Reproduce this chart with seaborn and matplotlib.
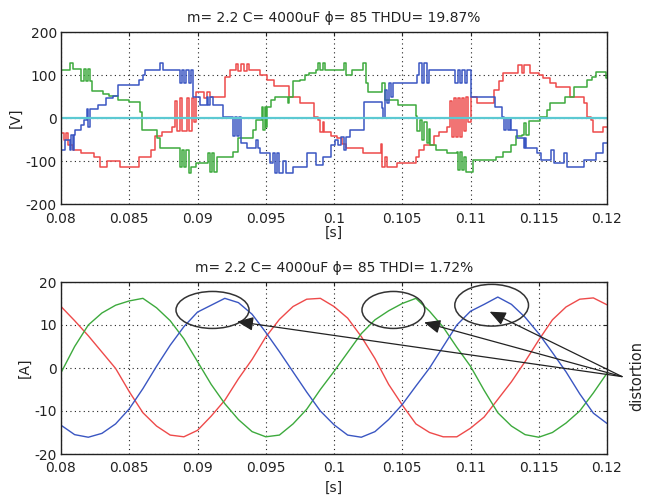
import numpy as np
import matplotlib
matplotlib.use("Agg")
import matplotlib.pyplot as plt
import seaborn as sns
from matplotlib.patches import Ellipse

T0 = 0.08  # start of the window [s]

# ---------------- phase voltages (staircase), time offsets in ms, levels in V
green_v_t = [0.0, 0.66, 0.85, 1.5, 1.65, 1.8, 1.95, 2.1, 2.25, 3.1,
             3.5, 4.2, 5.0, 5.8, 5.9, 7.0, 7.25, 8.7, 8.85, 9.0,
             9.15, 9.35, 9.55, 9.9, 10.75, 10.9, 11.05, 11.2, 11.4, 12.6,
             13.0, 14.1, 14.3, 14.7, 14.8, 14.95, 15.05, 15.1, 15.4, 15.7,
             16.6, 16.7, 17.0, 17.5, 17.9, 18.2, 18.7, 18.85, 19.0, 19.2,
             19.35, 20.7, 20.9, 21.3, 22.15, 22.35, 22.5, 23.55, 23.7, 24.7,
             26.0, 26.1, 26.3, 26.45, 26.6, 26.8, 26.95, 27.0, 27.5, 28.25,
             29.0, 29.1, 29.25, 29.4, 29.55, 29.7, 30.2, 31.9, 32.4, 33.0,
             33.3, 33.8, 33.9, 34.1, 34.25, 35.1, 35.6, 35.8, 36.9, 37.6,
             38.5, 38.9, 39.2, 39.9, 40.0]
green_v = [112, 128, 113, 85, 113, 85, 113, 85, 63, 55,
           51, 42, 38, 15, -28, -47, -70, -113, -74, -113,
           -74, -128, -113, -105, -82, -125, -82, -125, -90, -78,
           -47, -28, -5, 26, -28, 26, -20, 26, 42, 50,
           35, 50, 85, 88, 100, 104, 112, 128, 112, 128,
           112, 128, 100, 112, 128, 81, 61, 81, 42, 30,
           5, -30, -5, -50, -10, -59, -25, -63, -75, -82,
           -78, -121, -78, -121, -90, -125, -98, -90, -78, -63,
           -43, -39, -12, -40, -8, 3, 19, 34, 50, 73,
           88, 96, 108, 92, 92]

red_v_t = [0.0, 0.2, 0.35, 0.5, 0.9, 1.5, 2.4, 2.85, 3.35, 4.3,
           5.7, 6.6, 6.9, 7.4, 8.1, 8.35, 8.5, 8.7, 8.85, 9.2,
           9.35, 9.6, 9.75, 9.9, 10.5, 10.7, 10.9, 12.0, 12.4, 12.8,
           13.0, 13.2, 13.4, 13.6, 13.8, 14.6, 15.1, 15.6, 16.7, 17.5,
           18.5, 18.8, 19.0, 19.2, 19.3, 19.8, 20.2, 20.6, 20.9, 22.1,
           23.45, 23.55, 23.7, 23.85, 24.6, 26.0, 26.2, 26.6, 27.3, 27.7,
           28.3, 28.5, 28.65, 28.8, 28.95, 29.1, 29.25, 29.4, 29.55, 29.7,
           29.85, 30.0, 30.5, 31.7, 32.1, 32.4, 33.5, 33.8, 33.95, 34.35,
           35.0, 35.3, 35.8, 36.3, 37.3, 38.3, 38.5, 38.8, 39.0, 39.7,
           40.0]
red_v = [-36, -50, -36, -63, -75, -82, -90, -113, -100, -113,
         -90, -75, -43, -32, -20, 40, -30, 46, -30, 46,
         -30, 46, -10, 61, 46, 61, 50, 96, 112, 125,
         110, 125, 110, 125, 112, 100, 88, 75, 50, 35,
         3, -5, -32, -10, -32, -43, -47, -60, -70, -82,
         -60, -113, -90, -113, -105, -90, -75, -63, -43, -32,
         -20, 40, -45, 46, -45, 46, -45, 46, -30, 50,
         -10, 50, 34, 65, 85, 104, 123, 104, 123, 104,
         100, 92, 82, 72, 50, 34, 3, -5, -32, -20,
         -20]

blue_v_t = [0.0, 0.3, 0.65, 0.75, 0.85, 0.95, 1.05, 1.5, 1.65, 1.9,
            2.0, 2.1, 2.7, 3.3, 3.8, 4.2, 5.7, 6.0, 6.15, 7.25,
            7.5, 8.7, 8.85, 9.0, 9.15, 9.35, 9.55, 9.7, 10.2, 10.7,
            10.8, 10.95, 11.1, 11.9, 12.6, 12.75, 12.9, 13.05, 13.2, 13.65,
            14.3, 14.4, 14.6, 15.3, 15.55, 15.7, 15.85, 16.0, 16.3, 16.5,
            17.0, 18.05, 18.7, 19.2, 19.8, 20.1, 20.3, 20.5, 20.7, 20.85,
            21.2, 22.2, 23.5, 23.6, 23.7, 23.85, 24.0, 24.15, 24.3, 26.1,
            26.25, 26.45, 26.6, 26.8, 26.95, 28.9, 29.05, 29.25, 29.4, 29.6,
            29.75, 30.0, 31.8, 32.3, 32.45, 32.6, 32.75, 32.9, 33.0, 33.4,
            33.9, 34.0, 34.1, 34.85, 35.2, 35.9, 36.1, 36.85, 37.05, 38.3,
            39.2, 39.7, 40.0]
blue_v = [-74, -51, -74, -40, -74, -40, -28, -16, -5, 20,
          -20, 20, 30, 46, 51, 77, 88, 100, 112, 127,
          112, 81, 112, 81, 112, 81, 112, 50, 30, 50,
          30, 50, 30, 3, -43, 3, -43, 3, -59, -70,
          -50, -70, -82, -105, -82, -128, -82, -128, -100, -128,
          -113, -82, -109, -90, -63, -51, -63, -45, -74, -45,
          -28, 38, 23, -1, 65, 35, 81, 50, 81, 100,
          127, 81, 127, 81, 112, 81, 112, 81, 112, 81,
          112, 50, 26, 3, -28, -1, -28, -1, -28, -47,
          -70, -47, -70, -82, -98, -74, -105, -82, -113, -98,
          -82, -59, -59]

neutral_v_t = [0.0, 40.0]
neutral_v = [0, 0]

# ---------------- phase currents, sampled every 1 ms, in A
current_t = list(range(0, 41))
red_i = [14.3, 11.0, 7.5, 3.7, -0.1, -5.5, -10.4, -13.5, -15.6, -16.0,
         -14.5, -11.2, -7.5, -2.5, 2.0, 7.2, 11.3, 14.3, 16.0, 16.2,
         14.3, 11.6, 7.3, 2.2, -3.8, -8.6, -13.0, -15.0, -16.0, -16.0,
         -14.0, -11.4, -7.3, -3.2, 1.5, 6.5, 11.2, 14.2, 16.0, 16.3, 14.7]
blue_i = [-13.3, -15.5, -16.1, -15.2, -13.0, -9.5, -4.8, 0.4, 5.3, 9.6,
          13.0, 14.6, 16.2, 15.2, 12.5, 8.3, 3.8, -0.9, -5.6, -10.0,
          -13.2, -15.6, -16.1, -14.8, -12.0, -8.5, -4.2, 0.0, 5.0, 10.0,
          13.2, 14.8, 16.5, 14.8, 11.8, 8.0, 3.6, -0.9, -6.0, -10.5, -12.9]
green_i = [-1.1, 5.0, 10.0, 12.8, 14.6, 15.6, 16.2, 14.0, 11.0, 6.8,
           1.5, -3.8, -8.3, -12.0, -14.8, -16.0, -15.6, -13.0, -9.6, -5.0,
           -0.8, 3.6, 8.0, 11.2, 13.3, 15.0, 16.2, 13.2, 9.5, 4.8,
           0.4, -5.2, -10.4, -13.5, -15.5, -16.1, -15.0, -12.8, -10.0, -5.8, -1.2]

# annotation marks (data coordinates of lower plot)
ellipse_centers = [(0.0911, 13.5), (0.10435, 13.5), (0.11155, 14.6)]
ellipse_sizes = [(0.00535, 8.6), (0.0046, 8.6), (0.0054, 9.7)]
arrow_tips = [(0.0929, 10.8), (0.1066, 10.6), (0.1114, 13.1)]
arrow_origin = (0.1211, -2.0)

xtick_vals = [0.08, 0.085, 0.09, 0.095, 0.1, 0.105, 0.11, 0.115, 0.12]
xtick_labels = ['0.08', '0.085', '0.09', '0.095', '0.1', '0.105', '0.11', '0.115', '0.12']
ytick_v = [-200, -100, 0, 100, 200]
ytick_i = [-20, -10, 0, 10, 20]

RED, GREEN, BLUE, CYAN = '#EE4A4A', '#3DAA3D', '#3A56C2', '#5CC9D2'

sns.set_theme(style='white')
plt.rcParams['font.family'] = ['DejaVu Sans']
plt.rcParams['axes.unicode_minus'] = False

fig = plt.figure(figsize=(6.5, 5.03), dpi=100)
ax1 = fig.add_axes([61/650, 1-204/503, 546/650, 172/503])
ax2 = fig.add_axes([61/650, 1-454/503, 546/650, 172/503])


def sec(t_ms):
    return T0 + np.asarray(t_ms, float) / 1000.0


for tt, vv, col in [(red_v_t, red_v, RED), (green_v_t, green_v, GREEN),
                    (blue_v_t, blue_v, BLUE), (neutral_v_t, neutral_v, CYAN)]:
    sns.lineplot(x=sec(tt), y=np.asarray(vv, float), ax=ax1, color=col,
                 linewidth=1.1 if col != CYAN else 1.6, drawstyle='steps-post',
                 estimator=None, sort=False, legend=False)

for ii, col in [(red_i, RED), (green_i, GREEN), (blue_i, BLUE)]:
    sns.lineplot(x=sec(current_t), y=np.asarray(ii, float), ax=ax2, color=col,
                 linewidth=1.0, estimator=None, sort=False, legend=False)

for ax, yt, ylim, ylab, title, xpad, xlpad in [
        (ax1, ytick_v, (-200, 200), '[V]', 'm= 2.2 C= 4000uF \u03d5= 85 THDU= 19.87%', 6, 0),
        (ax2, ytick_i, (-20, 20), '[A]', 'm= 2.2 C= 4000uF \u03d5= 85 THDI= 1.72%', 5, 4)]:
    ax.set_xlim(0.08, 0.12)
    ax.set_ylim(*ylim)
    ax.set_xticks(xtick_vals)
    ax.set_xticklabels(xtick_labels)
    ax.set_yticks(yt)
    ax.set_yticklabels([str(v) for v in yt])
    ax.grid(True, linestyle=(0, (1, 3)), color='#222222', linewidth=0.8)
    ax.set_axisbelow(True)
    ax.tick_params(direction='in', length=3, width=0.8, top=True, right=True,
                   labelsize=10, colors='#222222', pad=3)
    ax.tick_params(axis='x', pad=xpad)
    for s in ax.spines.values():
        s.set_visible(True)
        s.set_color('#222222')
        s.set_linewidth(1.0)
    ax.set_xlabel('[s]', fontsize=10, labelpad=xlpad, color='#222222')
    ax.set_ylabel(ylab, fontsize=10, labelpad=2, color='#222222')
    ax.set_title(title, fontsize=10, pad=7, color='#222222')

for (cx, cy), (w, h) in zip(ellipse_centers, ellipse_sizes):
    ax2.add_patch(Ellipse((cx, cy), w, h, fill=False, edgecolor='#333333',
                          linewidth=1.1, clip_on=False, zorder=5))

for tip in arrow_tips:
    ax2.annotate('', xy=tip, xytext=arrow_origin, annotation_clip=False,
                 arrowprops=dict(arrowstyle='-|>,head_length=0.7,head_width=0.3',
                                 color='#222222', lw=0.9, shrinkA=0, shrinkB=0,
                                 mutation_scale=14), zorder=6)

fig.text(637/650, 1-376/503, 'distortion', rotation=90, ha='center', va='center',
         fontsize=10.5, color='#222222')

fig.savefig('out.png', dpi=100)
